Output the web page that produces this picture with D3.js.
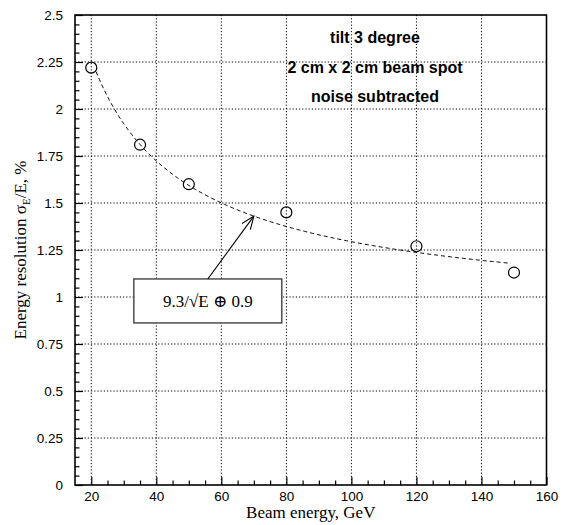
<!DOCTYPE html>
<html>
<head>
<meta charset="utf-8">
<script src="https://cdn.jsdelivr.net/npm/d3@7"></script>
<style>
  html, body { margin: 0; padding: 0; background: #fff; }
  svg { display: block; }
</style>
</head>
<body>
<svg id="chart" width="563" height="525"></svg>
<script>
// Measured resolution versus beam energy
const energy     = [20, 35, 50, 80, 120, 150];
const resolution = [2.22, 1.81, 1.60, 1.45, 1.27, 1.13];

// Fit parameters: sigma/E = a/sqrt(E) (+) b
const fitStochastic = 9.3;
const fitConstant   = 0.9;
const fitRange      = [21.5, 149];
const fitLabel      = "9.3/\u221AE \u2295 0.9";

// Axis ticks
const xTicks      = [20, 40, 60, 80, 100, 120, 140, 160];
const xTickLabels = ["20", "40", "60", "80", "100", "120", "140", "160"];
const yTicks      = [0, 0.25, 0.5, 0.75, 1, 1.25, 1.5, 1.75, 2, 2.25, 2.5];
const yTickLabels = ["0", "0.25", "0.5", "0.75", "1", "1.25", "1.5", "1.75", "2", "2.25", "2.5"];

// Run conditions
const notes = ["tilt 3 degree", "2 cm x 2 cm beam spot", "noise subtracted"];

const svg = d3.select("#chart");
const m = { left: 75, top: 15, right: 546.5, bottom: 485 };

const x = d3.scaleLinear().domain([15, 160]).range([m.left, m.right]);
const y = d3.scaleLinear().domain([0, 2.5]).range([m.bottom, m.top]);

const fit = e => Math.sqrt(Math.pow(fitStochastic / Math.sqrt(e), 2) + fitConstant * fitConstant);

const tickFont = "'Liberation Sans', Arial, Helvetica, sans-serif";
const serif = "'Liberation Serif', 'DejaVu Serif', 'Times New Roman', Times, serif";

// Dotted grid
const grid = svg.append("g");
grid.selectAll("line.v")
  .data(xTicks.filter(v => v < 160))
  .join("line")
  .attr("x1", d => x(d)).attr("x2", d => x(d))
  .attr("y1", m.top).attr("y2", m.bottom)
  .attr("stroke", "#000").attr("stroke-width", 1)
  .attr("stroke-dasharray", "1.2,2");
grid.selectAll("line.h")
  .data(yTicks.filter(v => v > 0 && v < 2.5))
  .join("line")
  .attr("y1", d => y(d)).attr("y2", d => y(d))
  .attr("x1", m.left).attr("x2", m.right)
  .attr("stroke", "#000").attr("stroke-width", 1)
  .attr("stroke-dasharray", "1.2,2");

// Minor ticks
const xMinor = d3.range(20, 160, 5).filter(v => !xTicks.includes(v));
const yMinor = d3.range(0, 2.5001, 0.05).map(v => +v.toFixed(2)).filter(v => !yTicks.includes(v));

svg.append("g")
  .attr("transform", `translate(0,${m.bottom})`)
  .call(d3.axisBottom(x).tickValues(xMinor).tickSize(-4.5).tickFormat(""))
  .call(g => g.select(".domain").remove())
  .call(g => g.selectAll("line").attr("stroke-width", 1.2));
svg.append("g")
  .attr("transform", `translate(${m.left},0)`)
  .call(d3.axisLeft(y).tickValues(yMinor).tickSize(-4.5).tickFormat(""))
  .call(g => g.select(".domain").remove())
  .call(g => g.selectAll("line").attr("stroke-width", 1.2));

// Major axes
svg.append("g")
  .attr("transform", `translate(0,${m.bottom})`)
  .call(d3.axisBottom(x).tickValues(xTicks).tickSize(-8).tickPadding(6.5)
    .tickFormat((d, i) => xTickLabels[i]))
  .call(g => g.select(".domain").remove())
  .call(g => g.selectAll("line").attr("stroke-width", 1.2))
  .call(g => g.selectAll("text").attr("font-family", tickFont).attr("font-size", 13.5).attr("fill", "#000"));

svg.append("g")
  .attr("transform", `translate(${m.left},0)`)
  .call(d3.axisLeft(y).tickValues(yTicks).tickSize(-8).tickPadding(12)
    .tickFormat((d, i) => yTickLabels[i]))
  .call(g => g.select(".domain").remove())
  .call(g => g.selectAll("line").attr("stroke-width", 1.2))
  .call(g => g.selectAll("text").attr("font-family", tickFont).attr("font-size", 13.5).attr("fill", "#000"));

// Frame
svg.append("rect")
  .attr("x", m.left).attr("y", m.top)
  .attr("width", m.right - m.left).attr("height", m.bottom - m.top)
  .attr("fill", "none").attr("stroke", "#000").attr("stroke-width", 1.6);

// Fit curve
const fitE = d3.range(fitRange[0], fitRange[1] + 0.01, 0.5);
svg.append("path")
  .datum(fitE)
  .attr("d", d3.line().x(d => x(d)).y(d => y(fit(d))))
  .attr("fill", "none").attr("stroke", "#000").attr("stroke-width", 1)
  .attr("stroke-dasharray", "4,3");

// Data points
svg.append("g").selectAll("circle")
  .data(energy.map((e, i) => ({ e, r: resolution[i] })))
  .join("circle")
  .attr("cx", d => x(d.e)).attr("cy", d => y(d.r))
  .attr("r", 5.5)
  .attr("fill", "none").attr("stroke", "#000").attr("stroke-width", 1.2);

// Annotation box and arrow pointing at the fit
const box = { x0: 33.1, x1: 78.6, y0: 0.862, y1: 1.096 };
const arrowE = 70;
const tailX = (x(box.x0) + x(box.x1)) / 2, tailY = y(box.y1);
const tipX = x(arrowE), tipY = y(fit(arrowE));

svg.append("rect")
  .attr("x", x(box.x0)).attr("y", y(box.y1))
  .attr("width", x(box.x1) - x(box.x0)).attr("height", y(box.y0) - y(box.y1))
  .attr("fill", "#fff").attr("stroke", "#333").attr("stroke-width", 1.3);

svg.append("text")
  .attr("x", tailX).attr("y", (y(box.y0) + y(box.y1)) / 2 + 6)
  .attr("text-anchor", "middle")
  .attr("font-family", serif).attr("font-size", 17).attr("fill", "#000")
  .text(fitLabel);

svg.append("line")
  .attr("x1", tailX).attr("y1", tailY).attr("x2", tipX).attr("y2", tipY)
  .attr("stroke", "#000").attr("stroke-width", 1.1);

const ang = Math.atan2(tipY - tailY, tipX - tailX);
const headLen = 14, headSpread = 0.38;
svg.append("path")
  .attr("d", `M${tipX - headLen * Math.cos(ang - headSpread)},${tipY - headLen * Math.sin(ang - headSpread)}
              L${tipX},${tipY}
              L${tipX - headLen * Math.cos(ang + headSpread)},${tipY - headLen * Math.sin(ang + headSpread)}`)
  .attr("fill", "none").attr("stroke", "#000").attr("stroke-width", 1.1);

// Run condition notes
svg.append("g").selectAll("text")
  .data(notes)
  .join("text")
  .attr("x", 375).attr("y", (d, i) => 43 + i * 29.5)
  .attr("text-anchor", "middle")
  .attr("font-family", tickFont).attr("font-weight", "bold").attr("font-size", 16)
  .attr("fill", "#000")
  .text(d => d);

// Axis titles
svg.append("text")
  .attr("x", (m.left + m.right) / 2).attr("y", 518)
  .attr("text-anchor", "middle")
  .attr("font-family", serif).attr("font-size", 17).attr("fill", "#000")
  .text("Beam energy, GeV");

const yTitle = svg.append("text")
  .attr("transform", `translate(26,${(m.top + m.bottom) / 2}) rotate(-90)`)
  .attr("text-anchor", "middle")
  .attr("font-family", serif).attr("font-size", 17).attr("fill", "#000");
yTitle.append("tspan").text("Energy resolution \u03C3");
yTitle.append("tspan").attr("font-size", 11).attr("dy", 4).text("E");
yTitle.append("tspan").attr("dy", -4).text("/E, %");
</script>
</body>
</html>
